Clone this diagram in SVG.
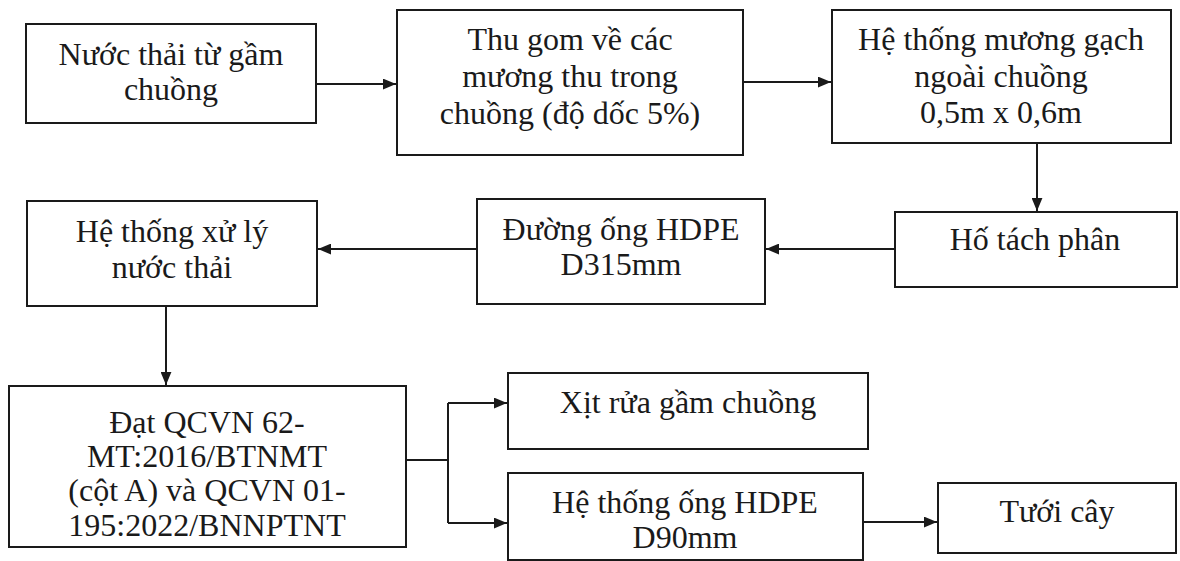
<svg xmlns="http://www.w3.org/2000/svg" width="1180" height="561" viewBox="0 0 1180 561">
<defs>
<style>
.b{fill:#fff;stroke:#1a1a1a;stroke-width:2}
.t{font-family:"Liberation Serif","Times New Roman",serif;font-size:32px;fill:#1a1a1a;text-anchor:middle}
.c{fill:none;stroke:#1a1a1a;stroke-width:2}
</style>
<marker id="ah" viewBox="0 0 12 10" refX="12" refY="5" markerWidth="13" markerHeight="11" markerUnits="userSpaceOnUse" orient="auto">
<path d="M0,0 L12,5 L0,10 Z" fill="#1a1a1a"/>
</marker>
</defs>
<rect width="1180" height="561" fill="#fff"/>
<g id="connectors">
<path class="c" d="M316,84 H396" marker-end="url(#ah)"/>
<path class="c" d="M743,82 H831" marker-end="url(#ah)"/>
<path class="c" d="M1037,143 V211" marker-end="url(#ah)"/>
<path class="c" d="M895,249 H766" marker-end="url(#ah)"/>
<path class="c" d="M477,249 H318" marker-end="url(#ah)"/>
<path class="c" d="M166,306 V385" marker-end="url(#ah)"/>
<path class="c" d="M406,460 H448"/>
<path class="c" d="M448,403 V523"/>
<path class="c" d="M448,403 H507" marker-end="url(#ah)"/>
<path class="c" d="M448,523 H507" marker-end="url(#ah)"/>
<path class="c" d="M863,522 H937" marker-end="url(#ah)"/>
</g>
<g id="n1"><rect class="b" x="26" y="24" width="290" height="99"/>
<text class="t" x="171" y="65">Nước thải từ gầm</text><text class="t" x="171" y="100">chuồng</text></g>
<g id="n2"><rect class="b" x="397" y="10" width="346" height="145"/>
<text class="t" x="570" y="50">Thu gom về các</text><text class="t" x="570" y="87">mương thu trong</text><text class="t" x="570" y="124">chuồng (độ dốc 5%)</text></g>
<g id="n3"><rect class="b" x="832" y="10" width="339" height="133"/>
<text class="t" x="1001" y="50">Hệ thống mương gạch</text><text class="t" x="1001" y="87">ngoài chuồng</text><text class="t" x="1001" y="123">0,5m x 0,6m</text></g>
<g id="n4"><rect class="b" x="895" y="212" width="282" height="75"/>
<text class="t" x="1035" y="250">Hố tách phân</text></g>
<g id="n5"><rect class="b" x="477" y="199" width="288" height="105"/>
<text class="t" x="621" y="240">Đường ống HDPE</text><text class="t" x="621" y="275">D315mm</text></g>
<g id="n6"><rect class="b" x="27" y="201" width="290" height="105"/>
<text class="t" x="172" y="242">Hệ thống xử lý</text><text class="t" x="172" y="278">nước thải</text></g>
<g id="n7"><rect class="b" x="9" y="386" width="397" height="161"/>
<text class="t" x="207" y="433">Đạt QCVN 62-</text><text class="t" x="207" y="467">MT:2016/BTNMT</text><text class="t" x="207" y="501">(cột A) và QCVN 01-</text><text class="t" x="207" y="536">195:2022/BNNPTNT</text></g>
<g id="n8"><rect class="b" x="508" y="373" width="360" height="76"/>
<text class="t" x="688" y="413">Xịt rửa gầm chuồng</text></g>
<g id="n9"><rect class="b" x="508" y="473" width="355" height="87"/>
<text class="t" x="685" y="513">Hệ thống ống HDPE</text><text class="t" x="685" y="548">D90mm</text></g>
<g id="n10"><rect class="b" x="938" y="483" width="238" height="70"/>
<text class="t" x="1057" y="522">Tưới cây</text></g>
</svg>
